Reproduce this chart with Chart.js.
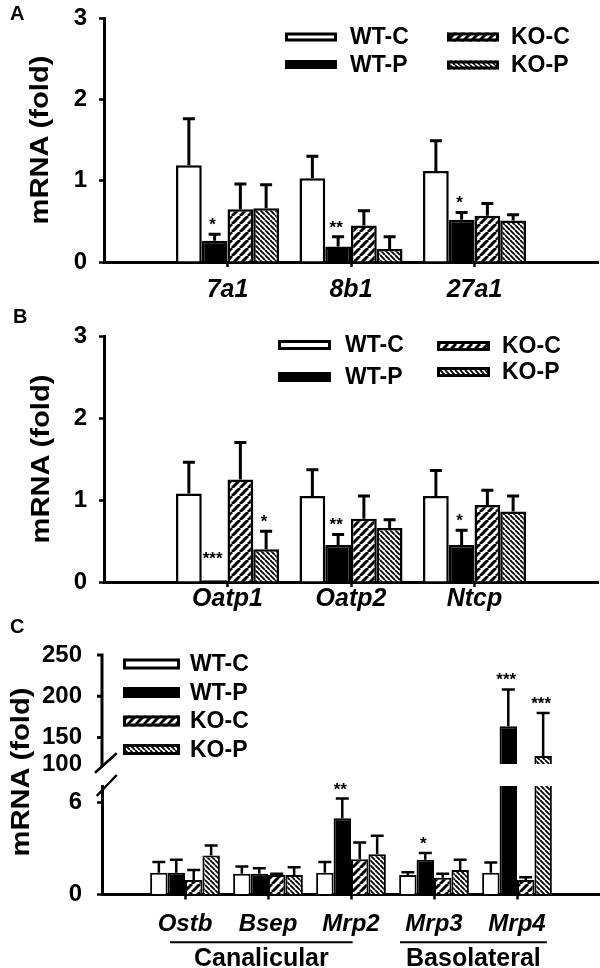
<!DOCTYPE html>
<html>
<head>
<meta charset="utf-8">
<script src="https://cdn.jsdelivr.net/npm/chart.js@4.4.1/dist/chart.umd.min.js"></script>
<style>
    body { margin: 0; background: #fff; }
    #fig { position: relative; width: 600px; height: 968px; overflow: hidden; font-family: "Liberation Sans", Arial, sans-serif; }
    #fig canvas { position: absolute; left: 0; }
    .letter { position: absolute; font-weight: bold; font-size: 20px; line-height: 1; }
    .ytitle { position: absolute; font-weight: bold; font-size: 26px; line-height: 1; white-space: nowrap;
              transform: translate(-50%, -50%) rotate(-90deg) scaleX(1.12); }
</style>
</head>
<body>
<div id="fig">
    <canvas id="chartA" style="top:0px" width="600" height="320"></canvas>
    <canvas id="chartB" style="top:320px" width="600" height="300"></canvas>
    <canvas id="chartCtop" style="top:620px" width="600" height="180"></canvas>
    <canvas id="chartC" style="top:620px" width="600" height="348"></canvas>
    <div class="letter" style="left:10px;top:3px">A</div>
    <div class="letter" style="left:13px;top:306px">B</div>
    <div class="letter" style="left:10px;top:616px">C</div>
    <div class="ytitle" style="left:39px;top:140px">mRNA (fold)</div>
    <div class="ytitle" style="left:40px;top:459px">mRNA (fold)</div>
    <div class="ytitle" style="left:20px;top:772px">mRNA (fold)</div>
</div>
<script>
const family = "'Liberation Sans', Arial, sans-serif";
const groups = ["WT-C", "WT-P", "KO-C", "KO-P"];

// panel A
const genesA = ["7a1", "8b1", "27a1"];
const meanA = [
    [1.19, 1.03, 1.12],
    [0.26, 0.19, 0.52],
    [0.65, 0.45, 0.57],
    [0.66, 0.16, 0.51],
];
const errA = [
    [0.57, 0.27, 0.37],
    [0.08, 0.12, 0.09],
    [0.31, 0.18, 0.15],
    [0.29, 0.15, 0.07],
];
const starsA = [
    ["", "", ""],
    ["*", "**", "*"],
    ["", "", ""],
    ["", "", ""],
];

// panel B
const genesB = ["Oatp1", "Oatp2", "Ntcp"];
const meanB = [
    [1.08, 1.05, 1.05],
    [0.02, 0.45, 0.45],
    [1.25, 0.77, 0.94],
    [0.40, 0.66, 0.86],
];
const errB = [
    [0.38, 0.32, 0.31],
    [0.0, 0.13, 0.18],
    [0.45, 0.28, 0.18],
    [0.22, 0.10, 0.19],
];
const starsB = [
    ["", "", ""],
    ["***", "**", "*"],
    ["", "", ""],
    ["*", "", ""],
];

// panel C
const genesC = ["Ostb", "Bsep", "Mrp2", "Mrp3", "Mrp4"];
const meanC = [
    [1.43, 1.35, 1.43, 1.28, 1.43],
    [1.43, 1.35, 4.99, 2.27, 163.7],
    [0.95, 1.28, 2.31, 1.10, 0.95],
    [2.55, 1.28, 2.64, 1.61, 127.6],
];
const errC = [
    [0.69, 0.48, 0.69, 0.18, 0.66],
    [0.84, 0.37, 1.29, 0.44, 44.6],
    [0.66, 0.08, 1.10, 0.25, 0.18],
    [0.66, 0.51, 1.21, 0.66, 52.3],
];
const starsC = [
    ["", "", "", "", ""],
    ["", "", "**", "*", "***"],
    ["", "", "", "", ""],
    ["", "", "", "", "***"],
];
const sitesC = ["Canalicular", "Basolateral"];
const ticksCLow = [0, 6];
const ticksCHigh = [118, 150, 200, 250];

function hatch(dir, size, lw) {
    const c = document.createElement("canvas");
    c.width = size;
    c.height = size;
    const g = c.getContext("2d");
    g.fillStyle = "#fff";
    g.fillRect(0, 0, size, size);
    g.strokeStyle = "#000";
    g.lineWidth = lw;
    g.beginPath();
    for (let k = -1; k <= 1; k++) {
        const o = k * size;
        if (dir === "/") {
            g.moveTo(o, size);
            g.lineTo(o + size, 0);
        } else {
            g.moveTo(o, 0);
            g.lineTo(o + size, size);
        }
    }
    g.stroke();
    return g.createPattern(c, "repeat");
}

const fills = ["#ffffff", "#000000", hatch("/", 8, 3), hatch("\\", 5, 1.8)];

const errorBars = {
    id: "errorBars",
    afterDatasetsDraw(chart, args, o) {
        const ctx = chart.ctx;
        const y = chart.scales.y;
        const area = chart.chartArea;
        ctx.save();
        ctx.strokeStyle = "#000";
        ctx.fillStyle = "#000";
        ctx.lineWidth = o.lw;
        ctx.textAlign = "center";
        ctx.textBaseline = "alphabetic";
        ctx.font = `bold ${o.starSize}px ${family}`;
        chart.data.datasets.forEach((ds, i) => {
            chart.getDatasetMeta(i).data.forEach((bar, j) => {
                const v = ds.data[j];
                if (v == null) return;
                const hi = v + ds.errors[j];
                if (hi > y.max || hi < y.min) return;
                const yTop = y.getPixelForValue(hi);
                const yBar = Math.max(y.getPixelForValue(Math.max(v, y.min)), area.top);
                let gap = o.starGap;
                if (ds.errors[j] > 0) {
                    ctx.beginPath();
                    ctx.moveTo(bar.x, yBar);
                    ctx.lineTo(bar.x, yTop);
                    ctx.moveTo(bar.x - o.cap / 2, yTop);
                    ctx.lineTo(bar.x + o.cap / 2, yTop);
                    ctx.stroke();
                } else {
                    gap += 12;
                }
                if (ds.stars[j]) ctx.fillText(ds.stars[j], bar.x - 2, yTop - gap);
            });
        });
        ctx.restore();
    },
};

const boxLegend = {
    id: "boxLegend",
    afterDraw(chart, args, o) {
        if (!o.items) return;
        const ctx = chart.ctx;
        ctx.save();
        ctx.font = `bold ${o.size}px ${family}`;
        ctx.textBaseline = "middle";
        chart.data.datasets.forEach((ds, i) => {
            const [bx, by, tx] = o.items[i];
            const top = by - o.h / 2;
            ctx.fillStyle = ds.backgroundColor;
            ctx.fillRect(bx, top, o.w, o.h);
            ctx.lineWidth = o.lw;
            ctx.strokeStyle = "#000";
            ctx.strokeRect(bx + o.lw / 2, top + o.lw / 2, o.w - o.lw, o.h - o.lw);
            ctx.fillStyle = "#000";
            ctx.fillText(ds.label, tx, by + 1);
        });
        ctx.restore();
    },
};

let upperC = null;

// panel C: y axis of the upper segment (scale of upperC) and the break slashes,
// drawn on the lower chart's canvas, which shares the same origin
const axisBreak = {
    id: "axisBreak",
    afterDraw(chart, args, o) {
        if (!o.lines || !upperC) return;
        const ctx = chart.ctx;
        const y = upperC.scales.y;
        const area = upperC.chartArea;
        ctx.save();
        ctx.strokeStyle = "#000";
        ctx.lineWidth = 3;
        ctx.beginPath();
        ctx.moveTo(area.left, area.top - 1.5);
        ctx.lineTo(area.left, area.bottom + 3);
        y.ticks.forEach((t) => {
            if (t.value === y.min) return;
            const py = y.getPixelForValue(t.value);
            ctx.moveTo(area.left - 5, py);
            ctx.lineTo(area.left, py);
        });
        ctx.stroke();
        ctx.lineWidth = 2.5;
        ctx.beginPath();
        o.lines.forEach(([x1, y1, x2, y2]) => {
            ctx.moveTo(x1, y1);
            ctx.lineTo(x2, y2);
        });
        ctx.stroke();
        ctx.restore();
    },
};

const sites = {
    id: "sites",
    afterDraw(chart, args, o) {
        if (!o.spans) return;
        const ctx = chart.ctx;
        const x = chart.scales.x;
        ctx.save();
        ctx.strokeStyle = "#000";
        ctx.fillStyle = "#000";
        ctx.lineWidth = 2;
        ctx.font = `bold 25px ${family}`;
        ctx.textAlign = "center";
        ctx.textBaseline = "middle";
        sitesC.forEach((name, i) => {
            const x1 = x.getPixelForValue(o.spans[i][0]);
            const x2 = x.getPixelForValue(o.spans[i][1]);
            ctx.beginPath();
            ctx.moveTo(x1, o.lineY);
            ctx.lineTo(x2, o.lineY);
            ctx.stroke();
            ctx.fillText(name, (x1 + x2) / 2, o.textY);
        });
        ctx.restore();
    },
};

function noPad(s) {
    s.paddingTop = 0;
    s.paddingBottom = 0;
    s.paddingLeft = 0;
    s.paddingRight = 0;
}

function barChart(id, o) {
    const labels = ["", ...o.cats, ""];
    const last = labels.length - 1;
    const datasets = groups.map((g, i) => ({
        label: g,
        data: [null, ...o.means[i], null],
        errors: [null, ...o.errs[i], null],
        stars: ["", ...o.stars[i], ""],
        backgroundColor: fills[i],
        borderColor: "#000",
        borderWidth: o.bw,
        borderSkipped: "start",
        categoryPercentage: o.catPct,
        barPercentage: 1,
        clip: o.clip,
    }));
    const showX = o.showX !== false;
    const showY = o.showYLine !== false;

    return new Chart(document.getElementById(id), {
        type: "bar",
        data: { labels, datasets },
        options: {
            responsive: false,
            animation: false,
            events: [],
            layout: { padding: { top: o.top, right: o.right, left: 0, bottom: o.bottom || 0 } },
            plugins: {
                legend: { display: false },
                tooltip: { enabled: false },
                errorBars: { lw: o.errLw, cap: o.cap, starSize: 17, starGap: 4 },
                boxLegend: o.legend || {},
                axisBreak: o.breaks || {},
                sites: o.sites || {},
            },
            scales: {
                x: {
                    type: "category",
                    offset: false,
                    z: 1,
                    grid: {
                        display: showX,
                        offset: false,
                        drawOnChartArea: false,
                        drawTicks: true,
                        tickLength: 5,
                        tickWidth: 2.5,
                        tickColor: (c) => (c.index > 0 && c.index < last ? "#000" : "rgba(0,0,0,0)"),
                    },
                    border: { display: showX, color: "#000", width: 3 },
                    ticks: {
                        display: showX,
                        autoSkip: false,
                        maxRotation: 0,
                        color: "#000",
                        padding: o.xPad,
                        font: { family, size: o.xSize, weight: "bold", style: "italic" },
                    },
                    afterFit: (s) => {
                        s.height = o.xH;
                        noPad(s);
                    },
                },
                y: {
                    min: o.min,
                    max: o.max,
                    z: 1,
                    grid: {
                        display: showY,
                        drawOnChartArea: false,
                        tickLength: 5,
                        tickWidth: 2.5,
                        tickColor: "#000",
                    },
                    border: { display: showY, color: "#000", width: 3 },
                    ticks: {
                        stepSize: 1,
                        padding: o.yPad,
                        color: "#000",
                        font: { family, size: 24, weight: "bold" },
                        callback: o.yLabel || ((v) => v),
                    },
                    afterBuildTicks: (s) => {
                        if (o.yTicks) s.ticks = o.yTicks.map((v) => ({ value: v }));
                    },
                    afterFit: (s) => {
                        s.width = o.axisX;
                        noPad(s);
                    },
                },
            },
        },
        plugins: [errorBars, boxLegend, axisBreak, sites],
    });
}

barChart("chartA", {
    cats: genesA, means: meanA, errs: errA, stars: starsA,
    min: 0, max: 3, top: 18, right: 2, xH: 58, xPad: 8, xSize: 25, yPad: 12, axisX: 104,
    bw: 2.5, catPct: 0.834, errLw: 3, cap: 12, clip: false,
    legend: {
        size: 23, w: 52, h: 9, lw: 3,
        items: [[285, 37, 350], [285, 64.5, 350], [447, 37, 511], [447, 65, 511]],
    },
});

barChart("chartB", {
    cats: genesB, means: meanB, errs: errB, stars: starsB,
    min: 0, max: 3, top: 16, right: 2, xH: 38, xPad: -3, xSize: 25, yPad: 12, axisX: 104,
    bw: 2.5, catPct: 0.834, errLw: 3, cap: 12, clip: false,
    legend: {
        size: 23, w: 53, h: 10, lw: 3,
        items: [[278, 25, 345], [278, 57, 345], [437, 26, 502], [437, 52, 502]],
    },
});

upperC = barChart("chartCtop", {
    cats: genesC, means: meanC, errs: errC, stars: starsC,
    min: 118, max: 250, top: 35, right: 0, bottom: 36, showX: false, showYLine: false, xH: 0, xPad: 0, xSize: 24,
    yPad: 15, axisX: 102, yTicks: ticksCHigh,
    yLabel: (v) => (v === 118 ? "100" : v),
    bw: 2, catPct: 0.84, errLw: 2.5, cap: 13,
    clip: { left: 10, right: 10, top: 10, bottom: 0 },
    legend: {
        size: 23, w: 57, h: 11, lw: 3,
        items: [[123, 44, 190], [123, 72.5, 190], [123, 101, 190], [123, 129.5, 190]],
    },
});

barChart("chartC", {
    cats: genesC, means: meanC, errs: errC, stars: starsC,
    min: 0, max: 7.1, top: 166, right: 0, xH: 73.5, xPad: 10, xSize: 24,
    yPad: 15, axisX: 102, yTicks: ticksCLow,
    bw: 2, catPct: 0.84, errLw: 2.5, cap: 13,
    clip: { left: 10, right: 10, top: 0, bottom: 10 },
    sites: { spans: [[0.82, 3.02], [3.59, 5.36]], lineY: 322.3, textY: 339 },
    breaks: { lines: [[95, 152.7, 116.7, 133.3], [96.7, 176, 116.7, 155]] },
});
</script>
</body>
</html>
